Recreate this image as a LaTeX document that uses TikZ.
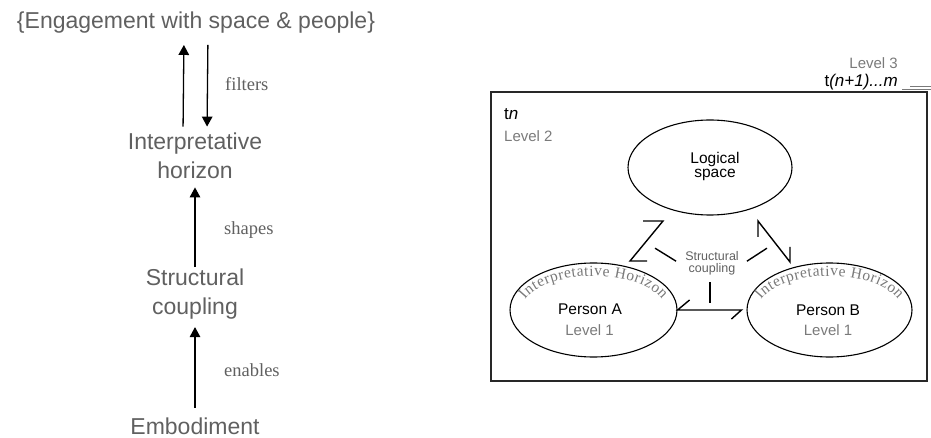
\documentclass[tikz,border=0pt]{standalone}
\usepackage{fontspec}
\setmainfont{Liberation Sans}
\newfontfamily\tmsfont{Liberation Serif}
\usetikzlibrary{arrows.meta,shapes.geometric,decorations.text}
\definecolor{textgray}{RGB}{96,96,96}
\definecolor{levelgray}{RGB}{122,122,122}
\definecolor{framegray}{RGB}{40,40,40}

\begin{document}
\begin{tikzpicture}[x=1pt,y=-1pt,
  big/.style={text=textgray,font=\fontsize{23}{28.5}\selectfont,align=center,inner sep=0pt},
  verb/.style={text=textgray,font=\tmsfont\fontsize{18.5}{20}\selectfont,anchor=base west,inner sep=0pt},
  rise/.style={-{Triangle[length=10pt,width=10.5pt]},line width=1.3pt},
  oval/.style={draw,ellipse,line width=1.1pt,inner sep=0pt},
  who/.style={font=\fontsize{15.5}{13.5}\selectfont,anchor=base,inner sep=0pt},
  lvl/.style={text=levelgray,font=\fontsize{15}{15}\selectfont,inner sep=0pt},
  stamp/.style={font=\fontsize{17}{17}\selectfont,inner sep=0pt},
  coupling/.style={line width=1.4pt},
  horizon/.style={decorate,decoration={text along path,text align={fit to path},
    text={|\tmsfont\fontsize{15.5}{15.5}\selectfont\color{levelgray}|Interpretative{ }Horizon}}}]
\useasboundingbox (0,0) rectangle (931,438);

\node[big,anchor=base] (eng) at (196,29) {\{Engagement with space \& people\}};
\node[big] (ih) at (195,156) {Interpretative\\horizon};
\node[big] (sc) at (195,294.2) {Structural\\coupling};
\node[big,anchor=base] (emb) at (195,434) {Embodiment};

\draw[rise,shorten <=6.5pt,shorten >=11pt] ([xshift=-12pt]ih.north) -- ([xshift=-12pt]eng.south);
\draw[rise,shorten <=11pt,shorten >=6.5pt] ([xshift=12pt]eng.south) -- ([xshift=12pt]ih.north);
\draw[rise,shorten <=2pt,shorten >=8.5pt] (sc.north) -- (ih.south);
\draw[rise,shorten <=9.5pt,shorten >=7.7pt] (emb.north) -- (sc.south);
\node[verb] (filt) at (225,91) {filters};
\node[verb] (shap) at (224,235) {shapes};
\node[verb] (enab) at (224,376) {enables};

\draw[framegray,line width=1.3pt] (491,92) rectangle (927,381);
\draw[levelgray,line width=0.8pt] (910,86) -- (931,86);
\draw[levelgray,line width=0.8pt] (902,89.5) -- (931,89.5);
\node[lvl,anchor=base east] (lv3) at (898,69) {Level 3};
\node[stamp,anchor=base east] (tm) at (898,87) {t\textit{(n+1)...m}};
\node[stamp,anchor=base west] (tn) at (504,120) {t\textit{n}};
\node[lvl,anchor=base west] (lv2) at (504,142) {Level 2};

\node[oval,minimum width=164pt,minimum height=95pt] (logic) at (710,167.5) {};
\node[oval,minimum width=167pt,minimum height=94pt] (pa) at (593.5,310) {};
\node[oval,minimum width=165pt,minimum height=94pt] (pb) at (829.5,310) {};
\node[who,anchor=center,align=center] (logtxt) at (715,166.4) {Logical\\space};
\node[who] (pan) at (590,314) {Person A};
\node[lvl,anchor=base] (pal) at (589.5,335.5) {Level 1};
\node[who] (pbn) at (828,315) {Person B};
\node[lvl,anchor=base] (pbl) at (828,335) {Level 1};
\path[horizon] ([yshift=-2pt]pa.center) ++(200:73 and 36) arc[start angle=200,end angle=340,x radius=73,y radius=36];
\path[horizon] ([yshift=-2pt]pb.center) ++(200:73 and 36) arc[start angle=200,end angle=340,x radius=73,y radius=36];

\node[text=textgray,font=\fontsize{12.5}{12}\selectfont,align=center,inner sep=0pt] (link) at (712,263.7) {Structural\\coupling};
\coordinate (zl) at (630,261);
\coordinate (zr) at (663,221);
\draw[coupling] ([xshift=17pt]zl) -- (zl) -- (zr) -- ([xshift=-20pt]zr);
\draw[coupling] ([shift={(-9pt,2.5pt)}]link.west) -- ++(-21,-13);
\coordinate (nl) at (758,221);
\coordinate (nr) at (790,262);
\draw[coupling] ([yshift=-16pt]nl) -- (nl) -- (nr) -- ([yshift=15pt]nr);
\draw[coupling] ([shift={(8pt,2.5pt)}]link.east) -- ++(20,-13);
\draw[coupling] ([shift={(-2pt,-6.5pt)}]link.south) -- ++(0,21);
\draw[coupling] ([shift={(12pt,10pt)}]pa.east) -- (pa.east) -- ([xshift=-5pt]pb.west) -- ([shift={(-15pt,-9pt)}]pb.west);
\end{tikzpicture}
\end{document}
